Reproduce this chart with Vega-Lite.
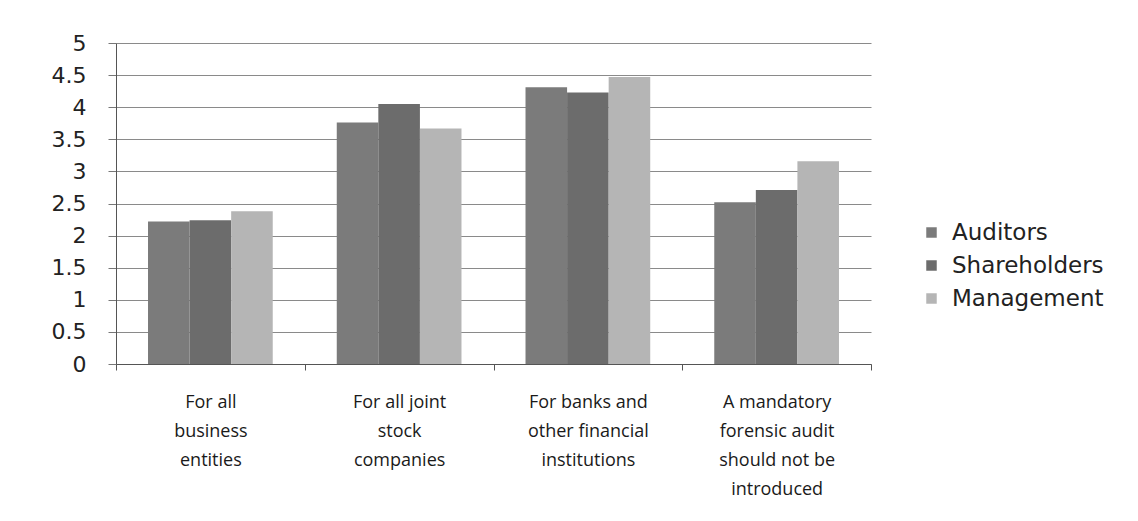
{
  "$schema": "https://vega.github.io/schema/vega-lite/v6.json",
  "autosize": {"type": "none"},
  "width": 755,
  "height": 321,
  "padding": {"left": 116, "top": 43, "right": 267, "bottom": 157},
  "background": "white",
  "data": {
    "values": [
      {"category": "For all|business|entities", "group": "Auditors", "value": 2.22},
      {"category": "For all|business|entities", "group": "Shareholders", "value": 2.24},
      {"category": "For all|business|entities", "group": "Management", "value": 2.38},
      {"category": "For all joint|stock|companies", "group": "Auditors", "value": 3.76},
      {"category": "For all joint|stock|companies", "group": "Shareholders", "value": 4.05},
      {"category": "For all joint|stock|companies", "group": "Management", "value": 3.67},
      {"category": "For banks and|other financial|institutions", "group": "Auditors", "value": 4.31},
      {"category": "For banks and|other financial|institutions", "group": "Shareholders", "value": 4.23},
      {"category": "For banks and|other financial|institutions", "group": "Management", "value": 4.47},
      {"category": "A mandatory|forensic audit|should not be|introduced", "group": "Auditors", "value": 2.52},
      {"category": "A mandatory|forensic audit|should not be|introduced", "group": "Shareholders", "value": 2.71},
      {"category": "A mandatory|forensic audit|should not be|introduced", "group": "Management", "value": 3.16}
    ]
  },
  "mark": {"type": "bar"},
  "encoding": {
    "x": {
      "field": "category",
      "type": "nominal",
      "sort": null,
      "scale": {"paddingInner": 0, "paddingOuter": 0},
      "axis": {
        "title": null,
        "labelAngle": 0,
        "labelExpr": "split(datum.label, '|')",
        "labelFont": "Open Sans",
        "labelFontSize": 18,
        "labelColor": "#1a1a1a",
        "labelLineHeight": 29,
        "labelPadding": 23,
        "labelBaseline": "top",
        "tickBand": "extent",
        "tickSize": 6,
        "tickColor": "#555555",
        "domainColor": "#555555",
        "grid": false
      }
    },
    "xOffset": {
      "field": "group",
      "type": "nominal",
      "sort": ["Auditors", "Shareholders", "Management"],
      "scale": {"paddingInner": 0, "paddingOuter": 0.77}
    },
    "y": {
      "field": "value",
      "type": "quantitative",
      "scale": {"domain": [0, 5], "nice": false},
      "axis": {
        "title": null,
        "values": [0, 0.5, 1, 1.5, 2, 2.5, 3, 3.5, 4, 4.5, 5],
        "format": "~g",
        "labelFont": "DejaVu Sans",
        "labelFontSize": 22,
        "labelColor": "#222222",
        "labelPadding": 22,
        "tickSize": 8,
        "tickColor": "#777777",
        "domainColor": "#555555",
        "gridColor": "#8a8a8a",
        "gridOpacity": 1
      }
    },
    "color": {
      "field": "group",
      "type": "nominal",
      "sort": ["Auditors", "Shareholders", "Management"],
      "scale": {
        "domain": ["Auditors", "Shareholders", "Management"],
        "range": ["#7b7b7b", "#6c6c6c", "#b5b5b5"]
      },
      "legend": {
        "title": null,
        "orient": "none",
        "legendX": 804,
        "legendY": 178,
        "symbolType": "square",
        "symbolSize": 110,
        "symbolStrokeWidth": 0,
        "labelFont": "DejaVu Sans",
        "labelFontSize": 23,
        "labelColor": "#222222",
        "labelOffset": 9,
        "rowPadding": 9
      }
    }
  },
  "config": {
    "view": {"stroke": null}
  }
}
